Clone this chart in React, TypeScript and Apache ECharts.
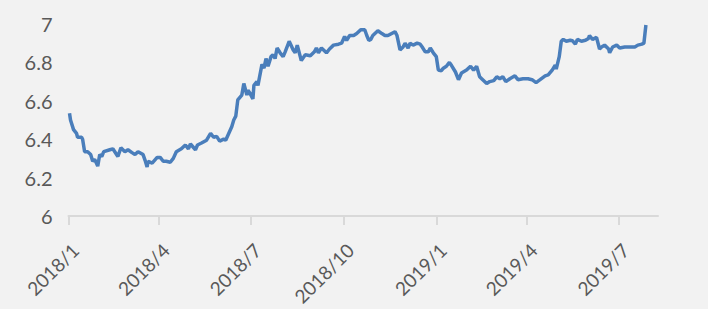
import React, { useEffect, useRef } from "react";
import * as echarts from "echarts";

const AXIS_START = "2018-01-01";
const AXIS_END = "2019-08-09";

const yTicks = [6, 6.2, 6.4, 6.6, 6.8, 7];
const quarterMonths = [1, 4, 7, 10];

const dates2018 = [
  "2018-01-02","2018-01-03","2018-01-06","2018-01-09","2018-01-10","2018-01-14","2018-01-15","2018-01-17","2018-01-20","2018-01-23",
  "2018-01-25","2018-01-27","2018-01-30","2018-02-01","2018-02-03","2018-02-05","2018-02-11","2018-02-14","2018-02-19","2018-02-22",
  "2018-02-26","2018-03-01","2018-03-05","2018-03-08","2018-03-11","2018-03-16","2018-03-18","2018-03-20","2018-03-21","2018-03-25",
  "2018-03-30","2018-04-02","2018-04-05","2018-04-08","2018-04-12","2018-04-15","2018-04-18","2018-04-23","2018-04-27","2018-04-30",
  "2018-05-02","2018-05-07","2018-05-09","2018-05-13","2018-05-18","2018-05-22","2018-05-25","2018-05-28","2018-05-31","2018-06-04",
  "2018-06-06","2018-06-09","2018-06-12","2018-06-14","2018-06-16","2018-06-18","2018-06-22","2018-06-24","2018-06-27","2018-06-28",
  "2018-06-30","2018-07-03","2018-07-04","2018-07-07","2018-07-08","2018-07-12","2018-07-14","2018-07-16","2018-07-18","2018-07-21",
  "2018-07-23","2018-07-25","2018-07-27","2018-07-30","2018-08-02","2018-08-04","2018-08-08","2018-08-12","2018-08-14","2018-08-16",
  "2018-08-19","2018-08-20","2018-08-24","2018-08-29","2018-09-02","2018-09-04","2018-09-06","2018-09-09","2018-09-14","2018-09-17",
  "2018-09-21","2018-09-26","2018-09-29","2018-10-02","2018-10-04","2018-10-07","2018-10-11","2018-10-14","2018-10-18","2018-10-22",
  "2018-10-24","2018-10-26","2018-10-28","2018-10-30","2018-11-04","2018-11-08","2018-11-11","2018-11-14","2018-11-21","2018-11-23",
  "2018-11-26","2018-11-29","2018-12-01","2018-12-04","2018-12-06","2018-12-09","2018-12-13","2018-12-16","2018-12-18","2018-12-21",
  "2018-12-24","2018-12-26","2018-12-29"
];
const values2018 = [
  6.535,6.50,6.45,6.43,6.41,6.41,6.40,6.335,6.335,6.32,
  6.285,6.295,6.26,6.32,6.31,6.335,6.345,6.35,6.31,6.355,
  6.335,6.345,6.33,6.32,6.335,6.32,6.29,6.255,6.285,6.275,
  6.305,6.305,6.285,6.285,6.28,6.30,6.335,6.35,6.37,6.35,
  6.375,6.345,6.37,6.38,6.395,6.43,6.41,6.415,6.39,6.40,
  6.395,6.43,6.465,6.50,6.52,6.605,6.63,6.69,6.63,6.655,
  6.64,6.61,6.68,6.70,6.68,6.79,6.77,6.82,6.78,6.83,
  6.84,6.82,6.875,6.85,6.83,6.855,6.91,6.865,6.85,6.89,
  6.83,6.81,6.84,6.835,6.855,6.875,6.85,6.875,6.85,6.87,
  6.89,6.895,6.90,6.935,6.915,6.94,6.94,6.95,6.97,6.97,
  6.94,6.915,6.92,6.94,6.965,6.95,6.94,6.94,6.96,6.94,
  6.865,6.88,6.90,6.875,6.90,6.89,6.90,6.895,6.88,6.855,
  6.855,6.875,6.85
];

const dates2019 = [
  "2019-01-01","2019-01-03","2019-01-06","2019-01-08","2019-01-11","2019-01-14","2019-01-16","2019-01-20","2019-01-23","2019-01-26",
  "2019-01-31","2019-02-04","2019-02-07","2019-02-10","2019-02-13","2019-02-15","2019-02-20","2019-02-23","2019-02-27","2019-03-02",
  "2019-03-05","2019-03-08","2019-03-11","2019-03-15","2019-03-20","2019-03-23","2019-03-28","2019-04-02","2019-04-06","2019-04-10",
  "2019-04-14","2019-04-19","2019-04-22","2019-04-26","2019-04-29","2019-04-30","2019-05-03","2019-05-05","2019-05-07","2019-05-10",
  "2019-05-14","2019-05-16","2019-05-19","2019-05-21","2019-05-25","2019-05-29","2019-06-01","2019-06-02","2019-06-05","2019-06-09",
  "2019-06-12","2019-06-14","2019-06-17","2019-06-21","2019-06-22","2019-06-25","2019-06-29","2019-07-02","2019-07-07","2019-07-12",
  "2019-07-17","2019-07-20","2019-07-24","2019-07-26","2019-07-28"
];
const values2019 = [
  6.83,6.76,6.757,6.77,6.78,6.80,6.785,6.75,6.71,6.745,
  6.76,6.78,6.76,6.78,6.725,6.715,6.69,6.70,6.705,6.725,
  6.715,6.725,6.70,6.715,6.73,6.71,6.715,6.715,6.71,6.695,
  6.71,6.73,6.735,6.76,6.785,6.765,6.83,6.91,6.92,6.91,
  6.915,6.913,6.895,6.92,6.91,6.915,6.925,6.94,6.92,6.93,
  6.87,6.88,6.89,6.87,6.85,6.88,6.89,6.875,6.88,6.88,
  6.88,6.89,6.895,6.90,6.995
];

function pad(n: number) {
  return n < 10 ? "0" + n : "" + n;
}

function buildDays(start: string, end: string): string[] {
  const out: string[] = [];
  const d = new Date(start + "T00:00:00Z");
  const e = new Date(end + "T00:00:00Z");
  while (d.getTime() <= e.getTime()) {
    out.push(d.getUTCFullYear() + "-" + pad(d.getUTCMonth() + 1) + "-" + pad(d.getUTCDate()));
    d.setUTCDate(d.getUTCDate() + 1);
  }
  return out;
}

function isQuarterStart(v: string) {
  const parts = v.split("-");
  return parts[2] === "01" && quarterMonths.indexOf(parseInt(parts[1], 10)) >= 0;
}

export default function App() {
  const ref = useRef<HTMLDivElement>(null);
  useEffect(() => {
    if (!ref.current) return;
    const chart = echarts.init(ref.current, undefined, { renderer: "svg" });
    const days = buildDays(AXIS_START, AXIS_END);
    const map: Record<string, number> = {};
    dates2018.forEach((d, i) => (map[d] = values2018[i]));
    dates2019.forEach((d, i) => (map[d] = values2019[i]));
    const seriesData = days.map((d) => (map[d] !== undefined ? map[d] : null));
    const fontFamily = "Lato, 'Noto Sans', sans-serif";
    chart.setOption({
      animation: false,
      backgroundColor: "#f2f2f2",
      grid: {
        left: 68.5,
        right: 50,
        top: 24,
        bottom: 93,
        containLabel: false,
        outerBoundsMode: "none",
      },
      xAxis: {
        type: "category",
        data: days,
        boundaryGap: false,
        axisLine: { show: true, lineStyle: { color: "#d9d9d9", width: 2 } },
        axisTick: {
          show: true,
          length: 9,
          interval: (_i: number, v: string) => isQuarterStart(v),
          lineStyle: { color: "#d9d9d9", width: 2 },
        },
        axisLabel: {
          interval: (_i: number, v: string) => isQuarterStart(v),
          rotate: 45,
          margin: 24,
          align: "right",
          verticalAlign: "top",
          color: "#595959",
          fontSize: 19,
          fontFamily,
          hideOverlap: false,
          formatter: (v: string) => {
            const p = v.split("-");
            return p[0] + "/" + parseInt(p[1], 10);
          },
        },
        splitLine: { show: false },
      },
      yAxis: {
        type: "value",
        min: 6,
        max: 7,
        interval: 0.2,
        axisLine: { show: false },
        axisTick: { show: false },
        splitLine: { show: false },
        axisLabel: {
          margin: 16,
          color: "#595959",
          fontSize: 20,
          fontFamily,
          formatter: (v: number) => {
            const found = yTicks.find((t) => Math.abs(t - v) < 1e-6);
            return String(found !== undefined ? found : v);
          },
        },
      },
      series: [
        {
          type: "line",
          data: seriesData,
          connectNulls: true,
          showSymbol: false,
          symbol: "none",
          lineStyle: { color: "#4a7ebb", width: 3.5 },
        },
      ],
    });
    return () => chart.dispose();
  }, []);
  return (
    <div
      ref={ref}
      style={{ position: "fixed", left: 0, top: 0, width: 708, height: 309 }}
    />
  );
}
